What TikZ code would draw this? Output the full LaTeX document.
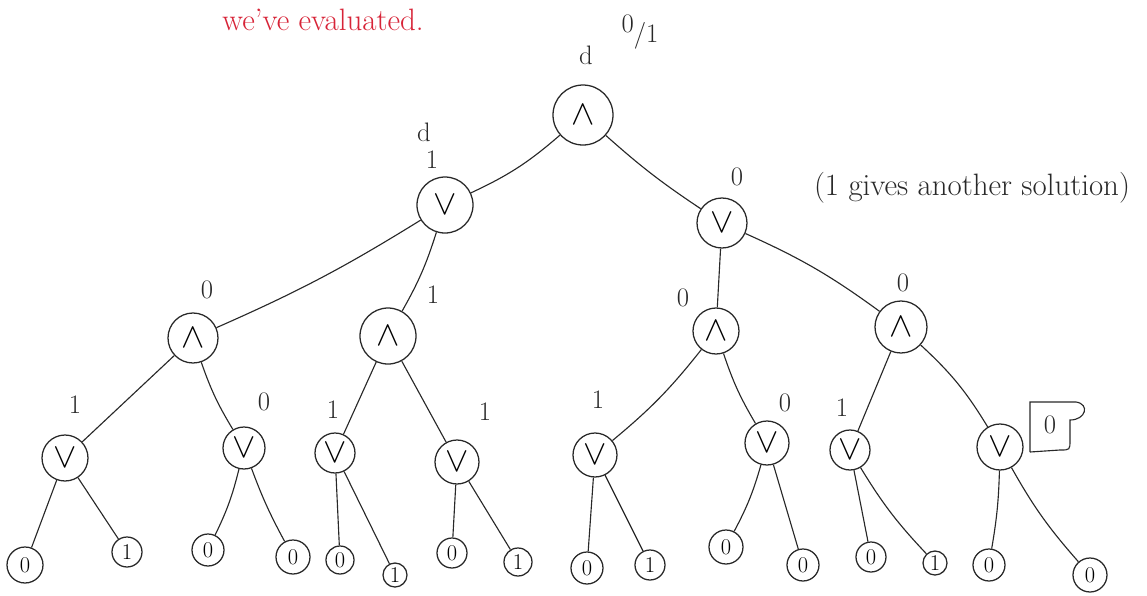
\documentclass[tikz,border=0pt]{standalone}
\usepackage{fontspec}
\begin{document}
\definecolor{ink}{RGB}{40,40,40}
\definecolor{mred}{RGB}{215,35,55}
\begin{tikzpicture}[x=0.025cm,y=-0.025cm,
  gate/.style={circle,draw=ink,line width=0.9pt,inner sep=0pt,minimum size=#1*0.025cm,font=\fontsize{28}{30}\selectfont},
  leaf/.style={circle,draw=ink,line width=0.9pt,inner sep=0pt,minimum size=#1*0.025cm,font=\fontsize{16}{18}\selectfont},
  lab/.style={text=ink,font=\fontsize{19}{21}\selectfont,inner sep=0pt},
  note/.style={font=\fontsize{22}{26}\selectfont,inner sep=0pt},
  edge/.style={draw=ink,line width=0.8pt}]
\useasboundingbox (0,0) rectangle (1147,595);
% gates
\node[gate=60] (root) at (583,115) {$\wedge$};
\node[gate=56] (L) at (445,205) {$\vee$};
\node[gate=50] (R) at (722,223) {$\vee$};
\node[gate=50] (LL) at (193,338) {$\wedge$};
\node[gate=56] (LR) at (388,336) {$\wedge$};
\node[gate=46] (RL) at (716,331) {$\wedge$};
\node[gate=52] (RR) at (901,327) {$\wedge$};
\node[gate=46] (LLL) at (65,458) {$\vee$};
\node[gate=42] (LLR) at (244,448) {$\vee$};
\node[gate=40] (LRL) at (335,453) {$\vee$};
\node[gate=44] (LRR) at (457,462) {$\vee$};
\node[gate=44] (RLL) at (595,455) {$\vee$};
\node[gate=44] (RLR) at (767,443) {$\vee$};
\node[gate=40] (RRL) at (850,450) {$\vee$};
\node[gate=46] (RRR) at (1000,447) {$\vee$};
% leaves
\node[leaf=36] (a1) at (25,565) {0};
\node[leaf=30] (a2) at (127,552) {1};
\node[leaf=32] (a3) at (208,550) {0};
\node[leaf=34] (a4) at (293,557) {0};
\node[leaf=28] (a5) at (340,560) {0};
\node[leaf=24] (a6) at (395,575) {1};
\node[leaf=30] (a7) at (452,553) {0};
\node[leaf=28] (a8) at (518,562) {1};
\node[leaf=32] (a9) at (587,568) {0};
\node[leaf=30] (a10) at (650,565) {1};
\node[leaf=34] (a11) at (726,547) {0};
\node[leaf=32] (a12) at (803,565) {0};
\node[leaf=30] (a13) at (871,557) {0};
\node[leaf=24] (a14) at (935,563) {1};
\node[leaf=32] (a15) at (989,565) {0};
\node[leaf=34] (a16) at (1090,575) {0};
% edges
\draw[edge] (root) to[bend left=8] (L);
\draw[edge] (root) to[bend right=4] (R);
\draw[edge] (L) to[bend left=4] (LL);
\draw[edge] (L) to[bend left=6] (LR);
\draw[edge] (R) -- (RL);
\draw[edge] (R) to[bend left=6] (RR);
\draw[edge] (LL) -- (LLL);
\draw[edge] (LL) to[bend right=6] (LLR);
\draw[edge] (LR) -- (LRL);
\draw[edge] (LR) -- (LRR);
\draw[edge] (RL) to[bend left=6] (RLL);
\draw[edge] (RL) to[bend right=6] (RLR);
\draw[edge] (RR) -- (RRL);
\draw[edge] (RR) to[bend left=8] (RRR);
\draw[edge] (LLL) -- (a1);
\draw[edge] (LLL) -- (a2);
\draw[edge] (LLR) to[bend left=6] (a3);
\draw[edge] (LLR) to[bend right=4] (a4);
\draw[edge] (LRL) -- (a5);
\draw[edge] (LRL) -- (a6);
\draw[edge] (LRR) -- (a7);
\draw[edge] (LRR) -- (a8);
\draw[edge] (RLL) -- (a9);
\draw[edge] (RLL) -- (a10);
\draw[edge] (RLR) to[bend left=6] (a11);
\draw[edge] (RLR) -- (a12);
\draw[edge] (RRL) -- (a13);
\draw[edge] (RRL) to[bend right=6] (a14);
\draw[edge] (RRR) to[bend left=4] (a15);
\draw[edge] (RRR) to[bend right=6] (a16);
% value labels
\node[lab] (d0) at (586,55) {d};
\node[lab] (v0) at (640,32) {\raisebox{0.35em}{0}/1};
\node[lab] (d1) at (424,132) {d};
\node[lab] (vL) at (432,160) {1};
\node[lab] (vR) at (737,177) {0};
\node[lab] (vLL) at (207,290) {0};
\node[lab] (vLR) at (433,295) {1};
\node[lab] (vRL) at (683,298) {0};
\node[lab] (vRR) at (903,283) {0};
\node[lab] (vLLL) at (75,405) {1};
\node[lab] (vLLR) at (264,402) {0};
\node[lab] (vLRL) at (333,410) {1};
\node[lab] (vLRR) at (485,412) {1};
\node[lab] (vRLL) at (598,400) {1};
\node[lab] (vRLR) at (785,403) {0};
\node[lab] (vRRL) at (842,408) {1};
\node[lab] (vRRR) at (1050,425) {0};
\draw[edge] (1030,452) -- (1030,402) -- (1076,402) .. controls (1090,404) and (1086,420) .. (1070,420) -- (1070,440) .. controls (1070,450) .. (1060,450) -- (1030,452);
% notes
\node[note,text=mred] (n1) at (323,20) {we've evaluated.};
\node[note,text=ink] (n2) at (972,188) {(1 gives another solution)};
\end{tikzpicture}
\end{document}
